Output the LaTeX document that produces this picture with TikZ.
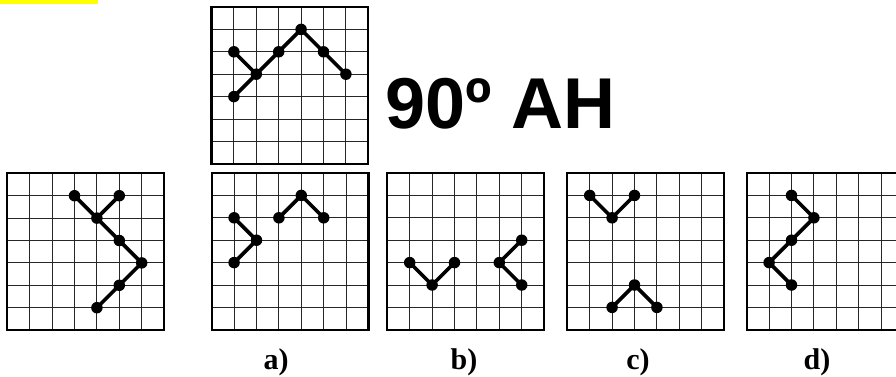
\documentclass[tikz,border=0pt]{standalone}
\usepackage{fontspec}
\setmainfont{Liberation Serif}
\newfontfamily\titlefont{Liberation Sans}
\tikzset{
  gridline/.style={draw=black!85, line width=0.9pt},
  gridborder/.style={draw=black, line width=2.2pt},
  dotnode/.style={circle, fill=black, inner sep=0pt, minimum size=11.5pt},
  link/.style={draw=black, line width=3.6pt},
  optlabel/.style={anchor=base, font=\bfseries\fontsize{30}{30}\selectfont, inner sep=0pt},
  gridunits/.style={x={(22.4pt,0pt)}, y={(0pt,-22.4pt)}}
}
\newcommand{\mygrid}{%
  \foreach \i in {1,...,6} {
    \draw[gridline] (\i,0) -- (\i,7);
    \draw[gridline] (0,\i) -- (7,\i);
  }
  \draw[gridborder] (0,0) rectangle (7,7);
}
\begin{document}
\begin{tikzpicture}[x=1pt, y=-1pt]
\useasboundingbox (0,0) rectangle (896,376);
\clip (0,0) rectangle (896,376);
\fill[fill={rgb,255:red,255;green,255;blue,0}] (0,0) rectangle (98,3.5);

% top grid
\begin{scope}[shift={(211.5pt,-7pt)}, gridunits]
  \mygrid
  \node[dotnode] (tA) at (1,2) {};
  \node[dotnode] (tB) at (2,3) {};
  \node[dotnode] (tC) at (1,4) {};
  \node[dotnode] (tD) at (3,2) {};
  \node[dotnode] (tE) at (4,1) {};
  \node[dotnode] (tF) at (5,2) {};
  \node[dotnode] (tG) at (6,3) {};
  \draw[link] (tA.center) -- (tB.center);
  \draw[link] (tC.center) -- (tB.center) -- (tD.center) -- (tE.center) -- (tF.center) -- (tG.center);
\end{scope}

% left grid
\begin{scope}[shift={(7.3pt,-173.3pt)}, gridunits]
  \mygrid
  \node[dotnode] (lA) at (3,1) {};
  \node[dotnode] (lB) at (5,1) {};
  \node[dotnode] (lC) at (4,2) {};
  \node[dotnode] (lD) at (5,3) {};
  \node[dotnode] (lE) at (6,4) {};
  \node[dotnode] (lF) at (5,5) {};
  \node[dotnode] (lG) at (4,6) {};
  \draw[link] (lA.center) -- (lC.center);
  \draw[link] (lB.center) -- (lC.center) -- (lD.center) -- (lE.center) -- (lF.center) -- (lG.center);
\end{scope}

% option a
\begin{scope}[shift={(211.7pt,-173pt)}, gridunits]
  \mygrid
  \node[dotnode] (aA) at (1,2) {};
  \node[dotnode] (aB) at (2,3) {};
  \node[dotnode] (aC) at (1,4) {};
  \node[dotnode] (aD) at (3,2) {};
  \node[dotnode] (aE) at (4,1) {};
  \node[dotnode] (aF) at (5,2) {};
  \draw[link] (aA.center) -- (aB.center) -- (aC.center);
  \draw[link] (aD.center) -- (aE.center) -- (aF.center);
\end{scope}

% option b
\begin{scope}[shift={(387.3pt,-173pt)}, gridunits]
  \mygrid
  \node[dotnode] (bA) at (1,4) {};
  \node[dotnode] (bB) at (2,5) {};
  \node[dotnode] (bC) at (3,4) {};
  \node[dotnode] (bD) at (6,3) {};
  \node[dotnode] (bE) at (5,4) {};
  \node[dotnode] (bF) at (6,5) {};
  \draw[link] (bA.center) -- (bB.center) -- (bC.center);
  \draw[link] (bD.center) -- (bE.center) -- (bF.center);
\end{scope}

% option c
\begin{scope}[shift={(567.3pt,-173pt)}, gridunits]
  \mygrid
  \node[dotnode] (cA) at (1,1) {};
  \node[dotnode] (cB) at (2,2) {};
  \node[dotnode] (cC) at (3,1) {};
  \node[dotnode] (cD) at (2,6) {};
  \node[dotnode] (cE) at (3,5) {};
  \node[dotnode] (cF) at (4,6) {};
  \draw[link] (cA.center) -- (cB.center) -- (cC.center);
  \draw[link] (cD.center) -- (cE.center) -- (cF.center);
\end{scope}

% option d
\begin{scope}[shift={(746.7pt,-173pt)}, gridunits]
  \mygrid
  \node[dotnode] (dA) at (2,1) {};
  \node[dotnode] (dB) at (3,2) {};
  \node[dotnode] (dC) at (2,3) {};
  \node[dotnode] (dD) at (1,4) {};
  \node[dotnode] (dE) at (2,5) {};
  \draw[link] (dA.center) -- (dB.center) -- (dC.center) -- (dD.center) -- (dE.center);
\end{scope}

\node[anchor=base west, inner sep=0pt, font=\titlefont\bfseries\fontsize{72}{72}\selectfont] (title) at (385,128) {90º AH};

\node[optlabel] (la) at (276,369) {a)};
\node[optlabel] (lb) at (464,369) {b)};
\node[optlabel] (lc) at (638,369) {c)};
\node[optlabel] (ld) at (817,369) {d)};
\end{tikzpicture}
\end{document}
